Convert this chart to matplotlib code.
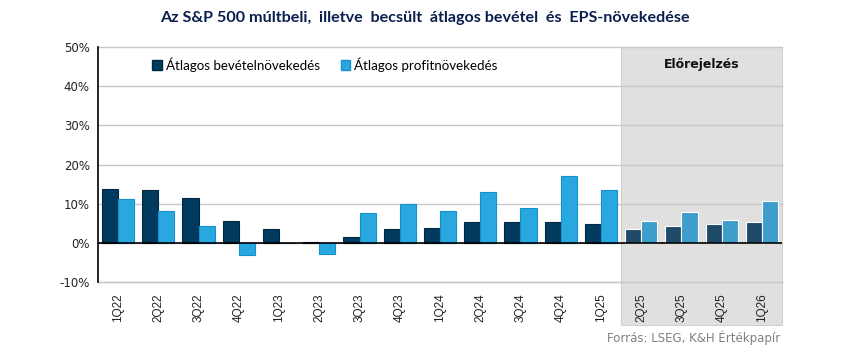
import matplotlib
matplotlib.use("Agg")
import matplotlib.pyplot as plt
from matplotlib.patches import Rectangle, Patch
import numpy as np

categories = ["1Q22", "2Q22", "3Q22", "4Q22", "1Q23", "2Q23", "3Q23", "4Q23", "1Q24",
              "2Q24", "3Q24", "4Q24", "1Q25", "2Q25", "3Q25", "4Q25", "1Q26"]
revenue = [13.7, 13.5, 11.4, 5.6, 3.6, 0.3, 1.5, 3.6, 3.9, 5.4, 5.4, 5.2, 4.9, 3.6, 4.2, 4.9, 5.2]
profit = [11.2, 8.1, 4.3, -3.1, 0.0, -2.9, 7.5, 10.0, 8.1, 13.0, 9.0, 17.1, 13.5, 5.7, 8.0, 5.9, 10.8]
n_actual = 13
yticks = [-10, 0, 10, 20, 30, 40, 50]

fig = plt.figure(figsize=(8.5, 3.53), dpi=100)
ax = fig.add_axes([98/850, 1-282/353, (782-98)/850, (282-47)/353])

x = np.arange(len(categories))
w = 0.4
dark, light = "#003a5f", "#29a8e0"
fdark, flight = "#1f4a6a", "#3d9dcb"

for i in x:
    fc_d = dark if i < n_actual else fdark
    fc_l = light if i < n_actual else flight
    ec_d = "#002840" if i < n_actual else "white"
    ec_l = "#1590cf" if i < n_actual else "white"
    ax.bar(i - w/2, revenue[i], w, color=fc_d, edgecolor=ec_d, linewidth=0.8, zorder=3)
    ax.bar(i + w/2, profit[i], w, color=fc_l, edgecolor=ec_l, linewidth=0.8, zorder=3)

ax.set_xlim(-0.5, len(categories) - 0.5)
ax.set_ylim(-10, 50)
ax.set_yticks(yticks)
ax.set_yticklabels([f"{v}%" for v in yticks], fontsize=8.5, color="#222222")
ax.yaxis.grid(True, color="#c8c8c8", linewidth=1, zorder=0, clip_on=False)
ax.set_axisbelow(True)
ax.axhline(0, color="black", linewidth=1.2, zorder=4)
ax.axhline(-10, color="#c8c8c8", linewidth=1, zorder=1, clip_on=False)
for s in ["top", "right", "bottom"]:
    ax.spines[s].set_visible(False)
ax.spines["left"].set_color("black")
ax.spines["left"].set_linewidth(1.2)
ax.tick_params(axis="y", length=0, pad=6)
ax.set_xticks(x)
ax.set_xticklabels(categories, rotation=90, fontsize=8.5, family="Liberation Sans", color="#222222")
ax.tick_params(axis="x", length=0, pad=8)

# forecast shading
shade = Rectangle((n_actual - 0.5, -0.183), len(categories) - n_actual, 1.183,
                  transform=ax.get_xaxis_transform(), facecolor="#e0e0e0",
                  edgecolor="#d0d0d0", linewidth=0.8, zorder=0.5, clip_on=False)
ax.add_patch(shade)
ax.text(14.5, 45.5, "Előrejelzés", ha="center", va="center",
        fontsize=9, fontweight="bold", color="#111111", zorder=5)

handles = [Patch(facecolor=dark, edgecolor="#002840", label="Átlagos bevételnövekedés"),
           Patch(facecolor=light, edgecolor="#1590cf", label="Átlagos profitnövekedés")]
ax.legend(handles=handles, loc="upper left", bbox_to_anchor=(0.065, 1.0), ncol=2,
          frameon=False, prop={"family": "Lato", "size": 9.6}, handlelength=0.7, handleheight=0.7,
          handletextpad=0.3, columnspacing=1.6, borderaxespad=0.35)

fig.text(0.5, 1-18/353, "Az S&P 500 múltbeli,  illetve  becsült  átlagos bevétel  és  EPS-növekedése",
         ha="center", va="center", fontsize=11.6, fontweight="bold", family="Lato", color="#0a1f4d")
fig.text(780/850, 1-338/353, "Forrás: LSEG, K&H Értékpapír", ha="right", va="center",
         fontsize=8.5, color="#808080")

fig.savefig("out.png", dpi=100)
